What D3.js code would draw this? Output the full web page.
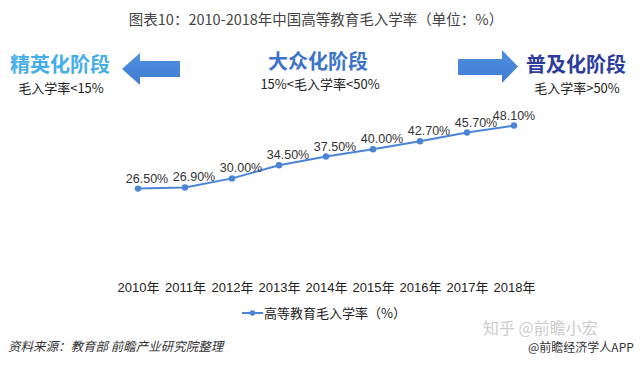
<!DOCTYPE html>
<html>
<head>
<meta charset="utf-8">
<script src="https://cdn.jsdelivr.net/npm/d3@7"></script>
<style>
  html, body { margin: 0; padding: 0; background: #fff; }
  svg { display: block; }
</style>
</head>
<body>
<svg id="chart" width="640" height="367"></svg>
<script>
const years = ["2010年","2011年","2012年","2013年","2014年","2015年","2016年","2017年","2018年"];
const rates = [26.5, 26.9, 30.0, 34.5, 37.5, 40.0, 42.7, 45.7, 48.1];
const rateLabels = ["26.50%","26.90%","30.00%","34.50%","37.50%","40.00%","42.70%","45.70%","48.10%"];
const titleText = "图表10：2010-2018年中国高等教育毛入学率（单位：%）";
const stageNames = ["精英化阶段", "大众化阶段", "普及化阶段"];
const stageRanges = ["毛入学率<15%", "15%<毛入学率<50%", "毛入学率>50%"];
const seriesName = "高等教育毛入学率（%）";
const sourceText = "资料来源：教育部 前瞻产业研究院整理";

const svg = d3.select("#chart");
const cjk = "'Noto Sans CJK SC', 'Liberation Sans', Arial, sans-serif";
const latin = "'Liberation Sans', Arial, 'Noto Sans CJK SC', sans-serif";
const lineColor = "#4a84d6";

// Title
svg.append("text").attr("x", 316).attr("y", 25).attr("text-anchor", "middle")
  .style("font-family", cjk).style("font-size", "14.5px").style("fill", "#444")
  .text(titleText);

// Stage headers
const stageX = [60, 318, 576];
const stageColors = ["#45aee6", "#3c74c8", "#2c3c9c"];
stageNames.forEach((n, i) => {
  svg.append("text").attr("x", stageX[i]).attr("y", i === 1 ? 69 : 72).attr("text-anchor", "middle")
    .style("font-family", cjk).style("font-weight", "bold").style("font-size", "20px")
    .style("fill", stageColors[i]).text(n);
  svg.append("text").attr("x", i === 0 ? 61 : (i === 2 ? 577 : 320)).attr("y", i === 1 ? 89 : 92.5).attr("text-anchor", "middle")
    .style("font-family", cjk).style("font-size", "13px").style("fill", "#222")
    .text(stageRanges[i]);
});

// Arrows
const grad = svg.append("defs").append("linearGradient").attr("id", "ag")
  .attr("x1", 0).attr("y1", 0).attr("x2", 0).attr("y2", 1);
grad.append("stop").attr("offset", "0%").attr("stop-color", "#4f8fe0");
grad.append("stop").attr("offset", "100%").attr("stop-color", "#3f7cd2");
svg.append("path")
  .attr("d", "M122,69 L140,53 L140,61 L180,61 L180,77 L140,77 L140,85 Z")
  .attr("fill", "url(#ag)");
svg.append("path")
  .attr("d", "M518,66.5 L502,50 L502,59 L458,59 L458,75 L502,75 L502,83 Z")
  .attr("fill", "url(#ag)");

// Scales
const x = d3.scalePoint().domain(years).range([138, 514]);
const y = d3.scaleLinear().domain([0, 50]).range([266, 120]);

// X axis
const xAxis = svg.append("g").attr("transform", "translate(0,266)")
  .call(d3.axisBottom(x).tickSize(0).tickPadding(16.5));
xAxis.select(".domain").remove();
xAxis.selectAll("text").style("font-family", latin).style("font-size", "13px").style("fill", "#222");

// Line
const line = d3.line().x((d, i) => x(years[i])).y(d => y(d));
svg.append("path").datum(rates).attr("d", line)
  .attr("fill", "none").attr("stroke", lineColor).attr("stroke-width", 2);
svg.selectAll("circle.pt").data(rates).enter().append("circle").attr("class", "pt")
  .attr("cx", (d, i) => x(years[i])).attr("cy", d => y(d)).attr("r", 3.2)
  .attr("fill", lineColor);

// Data labels
svg.selectAll("text.lbl").data(rates).enter().append("text").attr("class", "lbl")
  .attr("x", (d, i) => x(years[i]) + (i === rates.length - 1 ? 0 : 9))
  .attr("y", d => y(d) - 6)
  .attr("text-anchor", "middle")
  .style("font-family", latin).style("font-size", "12.5px").style("fill", "#333")
  .text((d, i) => rateLabels[i]);

// Legend
const lg = svg.append("g");
lg.append("line").attr("x1", 242).attr("x2", 263).attr("y1", 313).attr("y2", 313)
  .attr("stroke", lineColor).attr("stroke-width", 2);
lg.append("circle").attr("cx", 252.5).attr("cy", 313).attr("r", 2.8).attr("fill", lineColor);
lg.append("text").attr("x", 264).attr("y", 317.5)
  .style("font-family", cjk).style("font-size", "13px").style("fill", "#222")
  .text(seriesName);

// Source
svg.append("text").attr("x", 8).attr("y", 351)
  .style("font-family", cjk).style("font-size", "12.5px").style("font-style", "italic")
  .style("fill", "#333")
  .text(sourceText);

// Watermarks
svg.append("text").attr("x", 483).attr("y", 334)
  .style("font-family", cjk).style("font-size", "16px").style("fill", "#cccccc")
  .text("知乎 @前瞻小宏");
svg.append("text").attr("x", 528).attr("y", 352)
  .style("font-family", cjk).style("font-size", "12px").style("fill", "#333")
  .text("@前瞻经济学人APP");
</script>
</body>
</html>
